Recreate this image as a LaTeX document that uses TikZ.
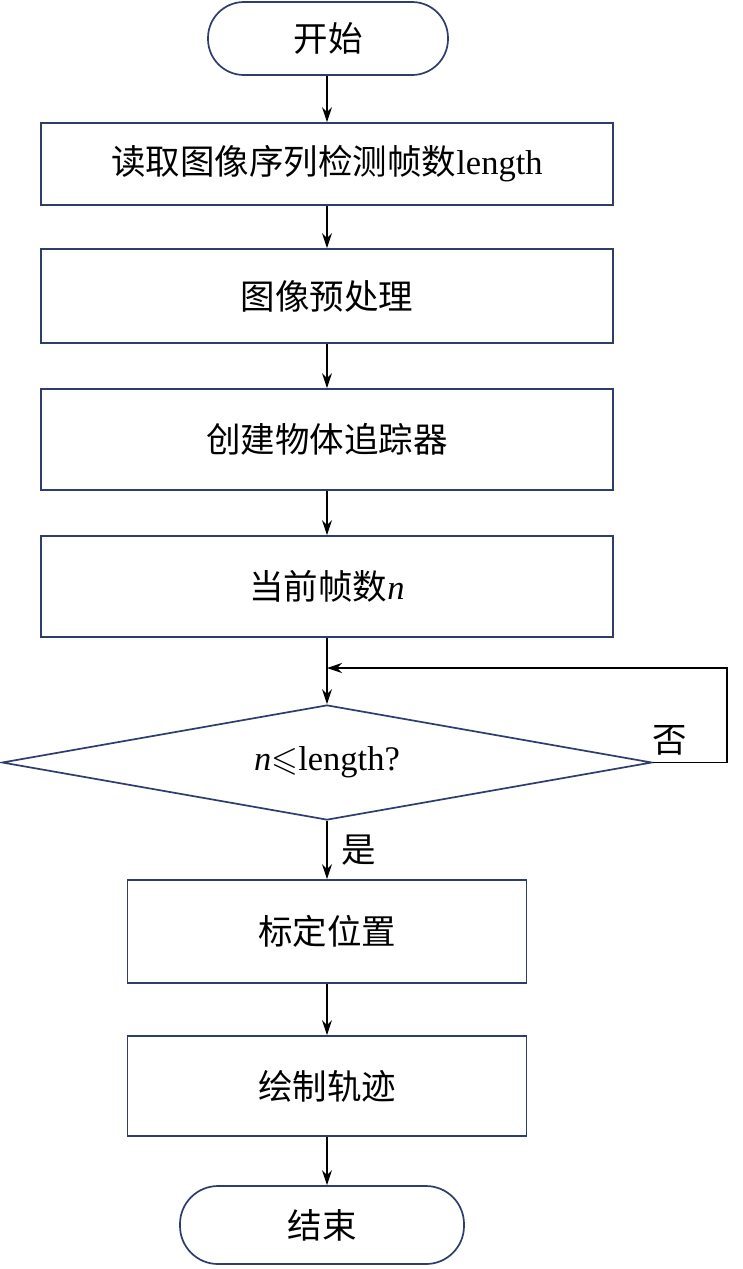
\documentclass[tikz,border=0pt]{standalone}
\usepackage{amssymb}
\usepackage{fontspec}
\setmainfont{Liberation Serif}
\newfontfamily\cjk{Noto Sans CJK SC}
\usetikzlibrary{shapes.geometric,arrows.meta}
\definecolor{bord}{HTML}{2E3D6E}
\begin{document}
\begin{tikzpicture}[x=1pt,y=-1pt,
  every node/.style={font=\fontsize{34.5}{40}\selectfont},
  procbox/.style={draw=bord,line width=1.7pt,rectangle,inner sep=0pt},
  term/.style={draw=bord,line width=1.7pt,rectangle,rounded corners=36pt,inner sep=0pt},
  decide/.style={draw=bord,line width=1.7pt,diamond,aspect=5.65,inner sep=0pt,minimum width=650pt,minimum height=115pt},
  flow/.style={line width=1.1pt,-{Stealth[length=15pt,width=10pt]}},
  lbl/.style={inner sep=0pt}]
\fill[white] (0,0) rectangle (743,1269);
\useasboundingbox (0,0) rectangle (743,1269);
\node[term,minimum width=240pt,minimum height=73pt] (start) at (328,38.5) {\cjk 开始};
\node[procbox,minimum width=572pt,minimum height=82pt] (b1) at (327,164) {{\cjk 读取图像序列检测帧数}length};
\node[procbox,minimum width=572pt,minimum height=94pt] (b2) at (327,296) {\cjk 图像预处理};
\node[procbox,minimum width=572pt,minimum height=101pt] (b3) at (327,439.5) {\cjk 创建物体追踪器};
\node[procbox,minimum width=572pt,minimum height=101pt] (b4) at (327,586.5) {{\cjk 当前帧数}\textit{n}};
\node[decide] (dia) at (327,762.5) {\textit{n}$\leqslant$length?};
\node[procbox,minimum width=399pt,minimum height=103pt] (b5) at (327,931.5) {\cjk 标定位置};
\node[procbox,minimum width=399pt,minimum height=100pt] (b6) at (327,1086) {\cjk 绘制轨迹};
\node[term,minimum width=284pt,minimum height=78pt,rounded corners=38pt] (end) at (322,1225) {\cjk 结束};
\coordinate (merge) at (327,668);
\coordinate (loopR) at (727,668);
\draw[flow] (start.south -| b1.north) -- (b1.north);
\draw[flow] (b1.south) -- (b2.north);
\draw[flow] (b2.south) -- (b3.north);
\draw[flow] (b3.south) -- (b4.north);
\draw[flow] (b4.south) -- (dia.north);
\draw[flow] (dia.east) -| (loopR) -- (merge);
\draw[flow] (dia.south) -- (b5.north);
\draw[flow] (b5.south) -- (b6.north);
\draw[flow] (b6.south) -- (b6.south |- end.north);
\node[lbl] (no) at (670,740) {\cjk 否};
\node[lbl] (yes) at (359,850) {\cjk 是};
\end{tikzpicture}
\end{document}
